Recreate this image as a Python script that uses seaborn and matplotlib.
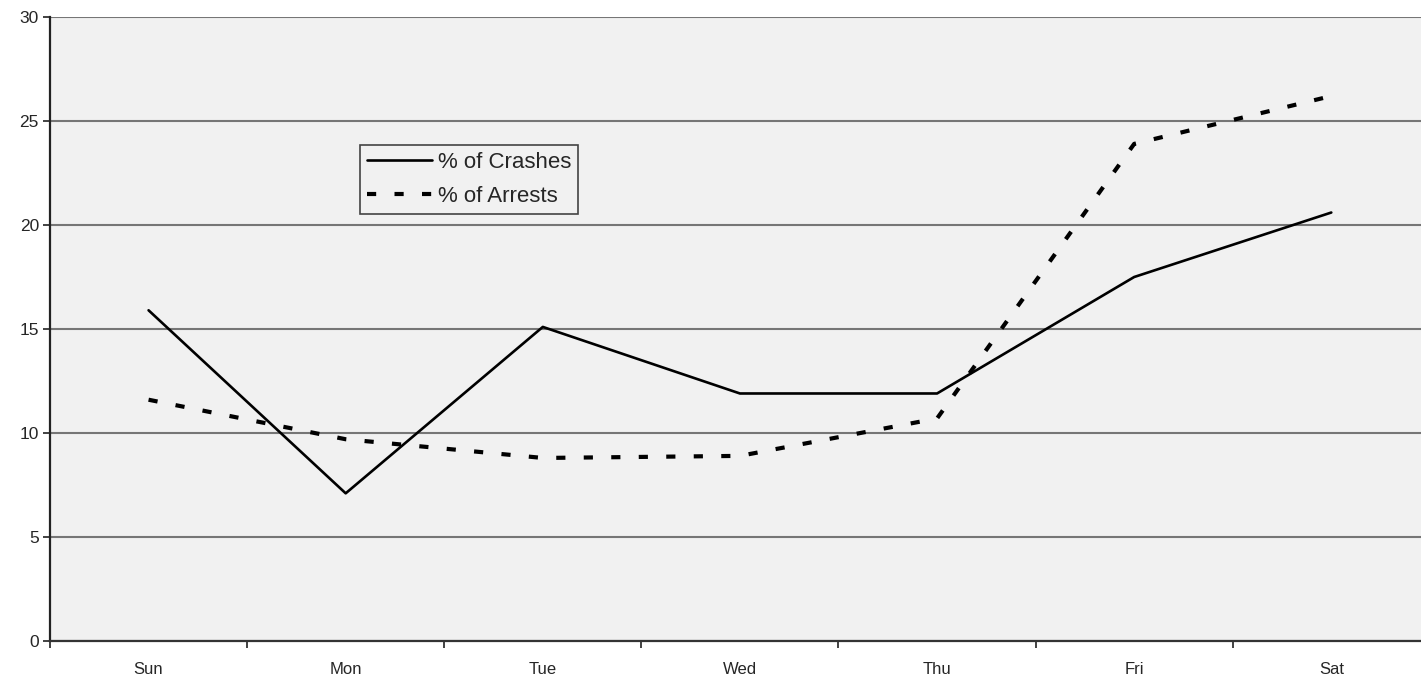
import numpy as np
import pandas as pd
import matplotlib
matplotlib.use("Agg")
import matplotlib.pyplot as plt
from matplotlib.lines import Line2D
import seaborn as sns

# ---- data ----
days = ["Sun", "Mon", "Tue", "Wed", "Thu", "Fri", "Sat"]
crashes = [15.9, 7.1, 15.1, 11.9, 11.9, 17.5, 20.6]
arrests = [11.6, 9.7, 8.8, 8.9, 10.7, 23.9, 26.2]
y_ticks = [0, 5, 10, 15, 20, 25, 30]

sns.set_theme(style="white")
plt.rcParams["font.family"] = ["Liberation Sans", "DejaVu Sans"]

fig = plt.figure(figsize=(14.21, 6.75), dpi=100)
fig.patch.set_facecolor("white")
ax = fig.add_axes([50 / 1421, 34 / 675, 1 - 50 / 1421, 624 / 675])
ax.set_facecolor("#f1f1f1")

df = pd.DataFrame({
    "x": list(range(len(days))) * 2,
    "value": crashes + arrests,
    "series": ["% of Crashes"] * len(days) + ["% of Arrests"] * len(days),
})

sns.lineplot(data=df[df.series == "% of Crashes"], x="x", y="value", ax=ax,
             color="black", linewidth=1.9, estimator=None, sort=False)
sns.lineplot(data=df[df.series == "% of Arrests"], x="x", y="value", ax=ax,
             color="black", linewidth=3.0, estimator=None, sort=False)
arr_line = ax.lines[-1]
arr_line.set_dashes((2.2, 4.4))
arr_line.set_dash_capstyle("butt")
if ax.get_legend() is not None:
    ax.get_legend().remove()

ax.set_xlim(-0.5, 6.455)
ax.set_ylim(0, 30)
ax.set_yticks(y_ticks)
ax.set_yticklabels([str(v) for v in y_ticks])
ax.yaxis.grid(True, color="#767676", linewidth=1.5)
ax.set_axisbelow(True)

# x ticks at category boundaries, labels at centers
ax.set_xticks(np.arange(-0.5, 6.5, 1.0))
ax.set_xticklabels([""] * 7)
ax.set_xticks(np.arange(len(days)), minor=True)
ax.set_xticklabels(days, minor=True)
ax.tick_params(axis="x", which="major", direction="out", length=5, width=1.3,
               color="#333333", bottom=True)
ax.tick_params(axis="x", which="minor", length=0, pad=15, labelsize=12)
ax.tick_params(axis="y", direction="out", length=5, width=1.3, color="#333333",
               left=True, pad=3, labelsize=12.5)

ax.set_xlabel("")
ax.set_ylabel("")
for s in ["top", "right"]:
    ax.spines[s].set_visible(False)
ax.spines["left"].set_color("#222222")
ax.spines["left"].set_linewidth(1.6)
ax.spines["bottom"].set_color("#333333")
ax.spines["bottom"].set_linewidth(1.6)

handles = [
    Line2D([], [], color="black", linewidth=1.9, label="% of Crashes"),
    Line2D([], [], color="black", linewidth=3.0, dashes=(2.2, 4.4),
           dash_capstyle="butt", label="% of Arrests"),
]
leg = ax.legend(handles=handles, loc="upper left", bbox_to_anchor=(0.226, 0.795),
                fontsize=16, frameon=True, fancybox=False, framealpha=1,
                handlelength=2.95, handletextpad=0.25, borderpad=0.3,
                labelspacing=0.6, borderaxespad=0)
leg.get_frame().set_facecolor("#f1f1f1")
leg.get_frame().set_edgecolor("#444444")
leg.get_frame().set_linewidth(1.2)

fig.savefig("out.png", dpi=100, facecolor="white")
